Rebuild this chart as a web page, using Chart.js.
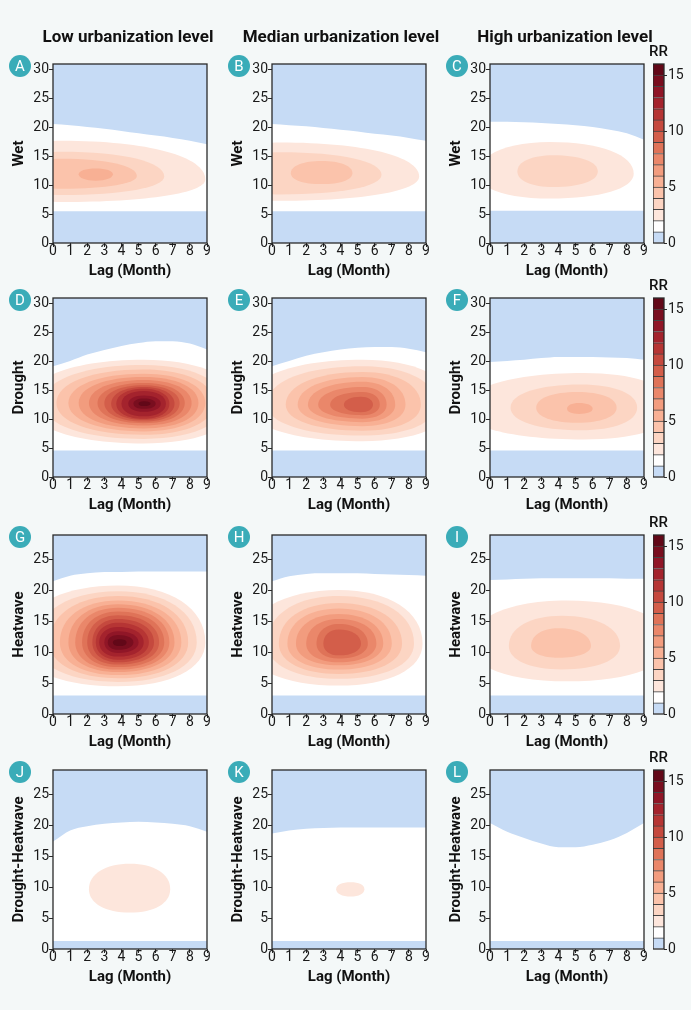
<!DOCTYPE html>
<html>
<head>
<meta charset="utf-8">
<script src="https://cdn.jsdelivr.net/npm/chart.js@4.4.1/dist/chart.umd.min.js"></script>
<style>
  html, body { margin: 0; padding: 0; background: #f4f8f8; }
  body { width: 691px; height: 1010px; position: relative; overflow: hidden; font-family: Roboto, "Noto Sans", sans-serif; }
  canvas { position: absolute; }
  .coltitle { position: absolute; top: 26px; width: 240px; text-align: center; font-size: 17px; font-weight: 700; color: #111; }
  .badge { position: absolute; width: 22px; height: 22px; border-radius: 50%; background: #3aacb8; color: #fff; font-size: 15px; line-height: 22px; text-align: center; }
  .rr { position: absolute; width: 30px; text-align: center; font-size: 15px; font-weight: 500; color: #111; }
</style>
</head>
<body>
<script>
// ---- data ----
const LAG = [0, 1, 2, 3, 4, 5, 6, 7, 8, 9];
const Y_TICKS_31 = [0, 5, 10, 15, 20, 25, 30];
const Y_TICKS_29 = [0, 5, 10, 15, 20, 25];
const RR_LEVELS = [0, 1, 2, 3, 4, 5, 6, 7, 8, 9, 10, 11, 12, 13, 14, 15, 16];
const RR_TICKS = [0, 5, 10, 15];
const RR_COLORS = ['#c6dbf5', '#ffffff', '#fde6dc', '#fcd5c3', '#fbc3ab', '#f8b094', '#f29c7e',
  '#ea876a', '#df7358', '#d35e4a', '#c5493e', '#b63534', '#a4232d', '#901627', '#790e1f', '#620818'];

const COL_TITLES = ['Low urbanization level', 'Median urbanization level', 'High urbanization level'];
const ROW_LABELS = ['Wet', 'Drought', 'Heatwave', 'Drought-Heatwave'];
const ROW_YMAX = [31, 31, 29, 29];

// upper edge of the RR<1 area at each lag, and top of the RR<1 band at the bottom
// contours: [bin, left, right, bottom, top, centreX, centreY]
const A_EDGE = [20.6, 20.4, 20.1, 19.8, 19.4, 19.0, 18.6, 18.2, 17.7, 17.1];
const A_BAND = 5.5;
const A_CONT = [[2, -3.0, 8.9, 7.1, 17.7, 0.5, 11.0], [3, -2.5, 6.5, 8.3, 15.8, 0.5, 11.5],
  [4, -2.0, 4.9, 9.4, 14.6, 0.5, 11.6], [5, 1.5, 3.5, 10.8, 12.9, 2.5, 11.9]];

const B_EDGE = [20.6, 20.4, 20.2, 19.9, 19.6, 19.3, 18.9, 18.6, 18.2, 17.7];
const B_BAND = 5.5;
const B_CONT = [[2, -3.0, 8.6, 7.3, 17.4, 0.5, 11.5], [3, -2.5, 6.4, 8.4, 15.7, 0.5, 11.8],
  [4, 1.1, 4.7, 10.2, 14.2, 2.9, 12.1]];

const C_EDGE = [21.0, 21.0, 20.9, 20.8, 20.6, 20.4, 20.1, 19.6, 19.0, 17.9];
const C_BAND = 5.6;
const C_CONT = [[2, -0.7, 8.4, 7.7, 17.5, 3.5, 12.0], [3, 1.6, 6.3, 9.7, 15.2, 3.7, 12.4]];

const D_EDGE = [19.2, 20.1, 21.2, 22.0, 22.7, 23.2, 23.5, 23.5, 23.1, 22.1];
const D_BAND = 4.6;
const D_CONT = [[2, -1.5, 10.8, 5.8, 20.3, 5.3, 12.8], [3, -0.6, 10.0, 6.6, 19.4, 5.3, 12.8],
  [4, 0.2, 9.4, 7.3, 18.6, 5.3, 12.8], [5, 0.9, 8.9, 7.9, 17.9, 5.3, 12.8],
  [6, 1.5, 8.5, 8.4, 17.3, 5.3, 12.8], [7, 2.1, 8.1, 8.9, 16.8, 5.3, 12.8],
  [8, 2.6, 7.7, 9.3, 16.3, 5.3, 12.8], [9, 3.0, 7.4, 9.6, 15.9, 5.3, 12.8],
  [10, 3.4, 7.1, 9.9, 15.6, 5.3, 12.7], [11, 3.7, 6.8, 10.1, 15.3, 5.3, 12.7],
  [12, 4.0, 6.6, 10.5, 14.9, 5.3, 12.7], [13, 4.4, 6.3, 11.3, 14.1, 5.3, 12.7],
  [14, 4.7, 6.0, 11.8, 13.6, 5.3, 12.7], [15, 5.0, 5.7, 12.3, 13.1, 5.3, 12.7]];

const E_EDGE = [19.2, 20.1, 21.0, 21.6, 22.1, 22.4, 22.5, 22.5, 22.2, 21.6];
const E_BAND = 4.6;
const E_CONT = [[2, -1.5, 10.5, 6.2, 20.3, 5.3, 12.7], [3, -0.3, 9.6, 7.2, 19.2, 5.3, 12.6],
  [4, 0.8, 8.7, 8.0, 18.2, 5.3, 12.5], [5, 1.5, 7.8, 8.8, 17.3, 5.3, 12.5],
  [6, 2.1, 7.2, 9.5, 16.5, 5.3, 12.5], [7, 2.7, 6.7, 10.1, 15.6, 5.3, 12.5],
  [8, 3.4, 6.3, 10.7, 14.7, 5.3, 12.5], [9, 4.2, 5.9, 11.2, 13.9, 5.2, 12.5]];

const F_EDGE = [19.9, 20.1, 20.3, 20.6, 20.8, 20.8, 20.8, 20.7, 20.6, 20.3];
const F_BAND = 4.6;
const F_CONT = [[2, -1.5, 10.8, 6.5, 18.0, 5.5, 11.8], [3, 1.2, 8.6, 8.1, 16.0, 5.3, 12.0],
  [4, 2.7, 7.4, 9.4, 14.7, 5.1, 12.0], [5, 4.5, 6.0, 10.9, 12.8, 5.2, 11.8]];

const G_EDGE = [21.5, 22.4, 22.8, 23.0, 23.0, 23.1, 23.1, 23.1, 23.1, 23.1];
const G_BAND = 3.0;
const G_CONT = [[2, -2.0, 8.9, 4.5, 20.8, 3.8, 11.6], [3, -1.0, 8.4, 5.2, 19.9, 3.8, 11.6],
  [4, -0.2, 7.9, 5.8, 19.1, 3.8, 11.6], [5, 0.4, 7.5, 6.3, 18.4, 3.8, 11.6],
  [6, 0.9, 7.1, 6.8, 17.8, 3.8, 11.6], [7, 1.3, 6.8, 7.2, 17.2, 3.8, 11.6],
  [8, 1.7, 6.5, 7.6, 16.6, 3.8, 11.6], [9, 2.0, 6.2, 8.0, 16.0, 3.8, 11.6],
  [10, 2.3, 5.9, 8.4, 15.4, 3.8, 11.6], [11, 2.5, 5.6, 8.8, 14.8, 3.8, 11.6],
  [12, 2.7, 5.3, 9.3, 14.1, 3.8, 11.6], [13, 3.0, 5.0, 9.9, 13.4, 3.8, 11.6],
  [14, 3.2, 4.7, 10.4, 12.8, 3.8, 11.6], [15, 3.5, 4.3, 11.0, 12.1, 3.9, 11.6]];

const H_EDGE = [21.5, 22.3, 22.7, 22.8, 22.8, 22.8, 22.7, 22.6, 22.5, 22.4];
const H_BAND = 3.0;
const H_CONT = [[2, -1.5, 8.8, 4.6, 20.1, 3.9, 11.4], [3, -0.3, 8.3, 5.7, 19.1, 3.9, 11.4],
  [4, 0.4, 7.6, 6.5, 18.0, 3.9, 11.4], [5, 0.9, 7.0, 7.2, 17.1, 3.9, 11.4],
  [6, 1.4, 6.5, 7.9, 16.2, 3.9, 11.4], [7, 2.0, 6.1, 8.4, 15.4, 3.9, 11.4],
  [8, 2.6, 5.6, 9.0, 14.6, 3.9, 11.4], [9, 3.0, 5.2, 9.5, 13.7, 3.9, 11.4]];

const I_EDGE = [21.7, 21.8, 21.9, 22.0, 22.0, 22.0, 22.0, 22.0, 21.9, 21.9];
const I_BAND = 3.0;
const I_CONT = [[2, -1.2, 10.5, 5.3, 18.4, 4.5, 11.3], [3, 1.1, 7.6, 7.2, 15.9, 4.2, 11.0],
  [4, 2.4, 5.9, 9.1, 13.9, 4.0, 11.0]];

const J_EDGE = [17.4, 19.2, 19.9, 20.3, 20.5, 20.6, 20.5, 20.3, 19.9, 19.0];
const J_BAND = 1.3;
const J_CONT = [[2, 2.1, 6.85, 5.9, 13.8, 4.5, 9.7]];

const K_EDGE = [18.7, 19.2, 19.5, 19.6, 19.7, 19.7, 19.7, 19.7, 19.7, 19.7];
const K_BAND = 1.3;
const K_CONT = [[2, 3.75, 5.4, 8.5, 10.8, 4.6, 9.7]];

const L_EDGE = [20.4, 19.0, 18.0, 17.1, 16.5, 16.5, 16.9, 17.6, 18.8, 20.4];
const L_BAND = 1.3;
const L_CONT = [];

// ---- layout ----
const COL_X = [53, 272, 490];
const ROW_Y = [64, 298, 535, 770];
const PW = 154, PH = 179;
const TITLE_CX = [128, 341, 565];
const CBAR_X = 653, CBAR_W = 11;
const KAPPA = 0.6;
const BLUE = RR_COLORS[0];
const INK = '#2a2a2a';

Chart.defaults.font.family = 'Roboto';

const PANELS = [
  ['A', A_EDGE, A_BAND, A_CONT], ['B', B_EDGE, B_BAND, B_CONT], ['C', C_EDGE, C_BAND, C_CONT],
  ['D', D_EDGE, D_BAND, D_CONT], ['E', E_EDGE, E_BAND, E_CONT], ['F', F_EDGE, F_BAND, F_CONT],
  ['G', G_EDGE, G_BAND, G_CONT], ['H', H_EDGE, H_BAND, H_CONT], ['I', I_EDGE, I_BAND, I_CONT],
  ['J', J_EDGE, J_BAND, J_CONT], ['K', K_EDGE, K_BAND, K_CONT], ['L', L_EDGE, L_BAND, L_CONT]
];

function makeCanvas(x, y, w, h) {
  const c = document.createElement('canvas');
  c.width = w; c.height = h;
  c.style.left = x + 'px'; c.style.top = y + 'px';
  c.style.width = w + 'px'; c.style.height = h + 'px';
  document.body.appendChild(c);
  return c;
}

function addDiv(cls, text, x, y) {
  const d = document.createElement('div');
  d.className = cls;
  d.textContent = text;
  d.style.left = x + 'px'; d.style.top = y + 'px';
  document.body.appendChild(d);
}

// white plot background
const whiteBg = {
  id: 'whiteBg',
  beforeDraw(chart) {
    const a = chart.chartArea, ctx = chart.ctx;
    ctx.save();
    ctx.fillStyle = '#ffffff';
    ctx.fillRect(a.left, a.top, a.right - a.left, a.bottom - a.top);
    ctx.restore();
  }
};

// box around the plot area
const frame = {
  id: 'frame',
  afterDraw(chart) {
    const a = chart.chartArea, ctx = chart.ctx;
    ctx.save();
    ctx.strokeStyle = INK;
    ctx.lineWidth = 1.3;
    ctx.strokeRect(a.left, a.top, a.right - a.left, a.bottom - a.top);
    ctx.restore();
  }
};

// filled RR contours, placed through the chart scales
function contours(list) {
  return {
    id: 'contours',
    beforeDatasetsDraw(chart) {
      const { ctx, chartArea: a, scales: { x, y } } = chart;
      ctx.save();
      ctx.beginPath();
      ctx.rect(a.left, a.top, a.right - a.left, a.bottom - a.top);
      ctx.clip();
      list.forEach(([bin, x0, x1, y0, y1, cx, cy]) => {
        const l = x.getPixelForValue(x0), r = x.getPixelForValue(x1);
        const b = y.getPixelForValue(y0), t = y.getPixelForValue(y1);
        const mx = x.getPixelForValue(cx), my = y.getPixelForValue(cy);
        const k = KAPPA;
        ctx.beginPath();
        ctx.moveTo(r, my);
        ctx.bezierCurveTo(r, my - k * (my - t), mx + k * (r - mx), t, mx, t);
        ctx.bezierCurveTo(mx - k * (mx - l), t, l, my - k * (my - t), l, my);
        ctx.bezierCurveTo(l, my + k * (b - my), mx - k * (mx - l), b, mx, b);
        ctx.bezierCurveTo(mx + k * (r - mx), b, r, my + k * (b - my), r, my);
        ctx.closePath();
        ctx.fillStyle = RR_COLORS[bin];
        ctx.fill();
      });
      ctx.restore();
    }
  };
}

const tickFont = { size: 14, lineHeight: 1 };
const axisTitleFont = { size: 15, weight: 'bold' };

PANELS.forEach(([letter, edge, band, cont], idx) => {
  const row = Math.floor(idx / 3), col = idx % 3;
  const L = COL_X[col], T = ROW_Y[row];
  const yTicks = ROW_YMAX[row] === 31 ? Y_TICKS_31 : Y_TICKS_29;
  const cv = makeCanvas(L - 54, T - 10, 54 + PW + 6, 10 + PH + 48);

  new Chart(cv, {
    type: 'line',
    data: {
      datasets: [
        {
          data: LAG.map((x, i) => ({ x: x, y: edge[i] })),
          fill: 'end', backgroundColor: BLUE, borderWidth: 0, pointRadius: 0,
          cubicInterpolationMode: 'monotone'
        },
        {
          data: [{ x: LAG[0], y: band }, { x: LAG[LAG.length - 1], y: band }],
          fill: 'start', backgroundColor: BLUE, borderWidth: 0, pointRadius: 0
        }
      ]
    },
    options: {
      responsive: false,
      animation: false,
      events: [],
      layout: { padding: { top: 10, right: 6, left: 0, bottom: 0 } },
      plugins: { legend: { display: false }, tooltip: { enabled: false } },
      scales: {
        x: {
          type: 'linear', min: LAG[0], max: LAG[LAG.length - 1],
          afterBuildTicks: s => { s.ticks = LAG.map(v => ({ value: v })); },
          afterFit: s => { s.height = 48; },
          ticks: { font: tickFont, color: '#1a1a1a', padding: -3, maxRotation: 0, autoSkip: false },
          grid: { drawOnChartArea: false, tickLength: 4, color: INK },
          border: { display: false },
          title: { display: true, text: 'Lag (Month)', font: axisTitleFont, color: '#111', padding: { top: 0, bottom: 11 } }
        },
        y: {
          min: 0, max: ROW_YMAX[row],
          afterBuildTicks: s => { s.ticks = yTicks.map(v => ({ value: v })); },
          afterFit: s => { s.width = 54; },
          ticks: { font: tickFont, color: '#1a1a1a', padding: 0 },
          grid: { drawOnChartArea: false, tickLength: 4, color: INK },
          border: { display: false },
          title: { display: true, text: ROW_LABELS[row], font: axisTitleFont, color: '#111', padding: { top: 11, bottom: 0 } }
        }
      }
    },
    plugins: [whiteBg, contours(cont), frame]
  });

  addDiv('badge', letter, L - 33 - 11, T + 2 - 11);
});

// column titles
COL_TITLES.forEach((t, i) => addDiv('coltitle', t, TITLE_CX[i] - 120, 26));

// colour bars, one per row
ROW_Y.forEach(T => {
  const cv = makeCanvas(CBAR_X, T - 10, CBAR_W + 30, 10 + PH + 8);
  new Chart(cv, {
    type: 'bar',
    data: {
      labels: ['RR'],
      datasets: RR_COLORS.map((c, i) => ({
        data: [[RR_LEVELS[i], RR_LEVELS[i + 1]]],
        backgroundColor: c,
        borderColor: '#444',
        borderWidth: { top: i < RR_COLORS.length - 1 ? 1 : 0, bottom: 0, left: 0, right: 0 },
        borderSkipped: false,
        grouped: false,
        barPercentage: 1,
        categoryPercentage: 1
      }))
    },
    options: {
      responsive: false,
      animation: false,
      events: [],
      layout: { padding: { top: 10, bottom: 8, left: 0, right: 0 } },
      plugins: { legend: { display: false }, tooltip: { enabled: false } },
      scales: {
        x: { display: false },
        y: {
          position: 'right', min: RR_LEVELS[0], max: RR_LEVELS[RR_LEVELS.length - 1],
          afterBuildTicks: s => { s.ticks = RR_TICKS.map(v => ({ value: v })); },
          afterFit: s => { s.width = 30; },
          ticks: { font: tickFont, color: '#1a1a1a', padding: 1 },
          grid: { drawOnChartArea: false, tickLength: 3, color: INK },
          border: { display: false }
        }
      }
    },
    plugins: [frame]
  });
  addDiv('rr', 'RR', CBAR_X + CBAR_W / 2 - 15, T - 22);
});
</script>
</body>
</html>
